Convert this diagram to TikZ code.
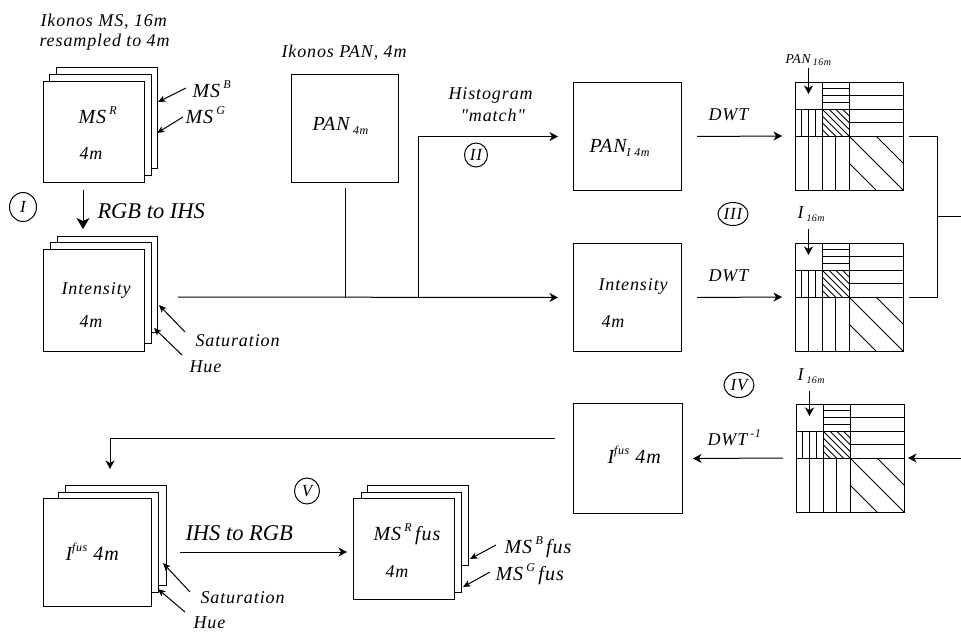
\documentclass[tikz,border=0pt]{standalone}
\usepackage{fontspec}
\setmainfont{Liberation Serif}
\newfontfamily\lsp[LetterSpace=5]{Liberation Serif}
\usetikzlibrary{arrows.meta,shapes.geometric}
\newcommand\upx[1]{\raisebox{0.42em}{\fontsize{12}{13}\selectfont #1}}
\newcommand\dnx[1]{\raisebox{-0.22em}{\fontsize{12}{13}\selectfont #1}}
\newcommand\dny[1]{\raisebox{-0.2em}{\fontsize{10}{11}\selectfont #1}}
\begin{document}
\begin{tikzpicture}[x=1pt,y=-1pt,line width=1pt,
 box/.style={draw,fill=white,inner sep=0pt,anchor=north west},
 back/.style={draw,fill=white},
 lbl/.style={font=\lsp\itshape\fontsize{18}{21}\selectfont,inner sep=0pt,anchor=base west},
 lblL/.style={font=\lsp\itshape\fontsize{20}{23}\selectfont,inner sep=0pt,anchor=base west},
 slbl/.style={font=\lsp\itshape\fontsize{13.5}{15}\selectfont,inner sep=0pt,anchor=base west},
 big/.style={font=\itshape\fontsize{22.5}{26}\selectfont,inner sep=0pt,anchor=base west},
 arr/.style={-{Stealth[length=8.5pt,width=9pt,inset=2.5pt]}},
 barr/.style={-{Stealth[length=11pt,width=13pt,inset=3pt]}},
 sarr/.style={-{Stealth[length=7.5pt,width=6.5pt,inset=2pt]}},
 rom/.style={draw,ellipse,inner sep=0pt,font=\lsp\itshape\fontsize{17}{19}\selectfont},
 dwtgrid/.pic={
  \draw (0,0) rectangle (108,108);
  \draw (54,0) -- (54,108) (0,54) -- (108,54) (27,0) -- (27,54) (0,27) -- (54,27);
  \foreach \t in {6.75,13.5,20.25} {\draw (27,\t) -- (54,\t); \draw (\t,27) -- (\t,54);}
  \foreach \t in {13.5,27,40.5} {\draw (54,\t) -- (108,\t); \draw (\t,54) -- (\t,108);}
  \draw (54,54) -- (108,108) (81,54) -- (108,81) (54,81) -- (81,108);
  \begin{scope}
   \clip (27,27) rectangle (54,54);
   \foreach \c in {-20.25,-13.5,-6.75,0,6.75,13.5,20.25} \draw ({27+(\c)},27) -- ++(27,27);
  \end{scope}
  \coordinate (-tl) at (13.5,12);
  \coordinate (-w) at (0,54);
  \coordinate (-e) at (108,54);
 }]
\useasboundingbox (0,0) rectangle (961,632);

% ---------- top-left MS stack ----------
\node[lbl] (t1) at (40,26) {Ikonos MS, 16m};
\node[lbl] (t2) at (39,46) {resampled to 4m};
\draw[back] (56,67) rectangle (157,168);
\draw[back] (49,74) rectangle (151,175);
\node[box,minimum width=101pt,minimum height=101pt] (msR) at (43,81) {};
\node[lblL] (lmsR) at (78,123) {MS\,\upx{R}};
\node[lbl] (l4a) at (79,159) {4m};
\node[lblL] (lmsB) at (192,97) {MS\,\upx{B}};
\node[lblL] (lmsG) at (185,123) {MS\,\upx{G}};
\coordinate (aB0) at (186,88); \coordinate (aB1) at (158,102);
\coordinate (aG0) at (183,117); \coordinate (aG1) at (157,133);
\draw[sarr] (aB0) -- (aB1);
\draw[sarr] (aG0) -- (aG1);

% ---------- RGB to IHS ----------
\node[rom,minimum width=27pt,minimum height=29pt] (cI) at (23,207) {I};
\coordinate (r1) at (83,190); \coordinate (r2) at (83,229);
\draw[barr] (r1) -- (r2);
\node[big] (rgb) at (97,218) {RGB to IHS};

% ---------- intensity stack ----------
\draw[back] (57,236) rectangle (157,332);
\draw[back] (50,242) rectangle (151,343);
\node[box,minimum width=101pt,minimum height=102pt] (intL) at (43,249) {};
\node[lbl] (lint1) at (61,294) {Intensity};
\node[lbl] (l4b) at (79,327) {4m};
\node[lbl] (lsat1) at (195,346) {Saturation};
\node[lbl] (lhue1) at (189,372) {Hue};
\coordinate (s10) at (185,332); \coordinate (s11) at (159,305);
\coordinate (h10) at (182,355); \coordinate (h11) at (154,328);
\draw[sarr] (s10) -- (s11);
\draw[sarr] (h10) -- (h11);

% ---------- PAN ----------
\node[lbl] (t3) at (281,57) {Ikonos PAN, 4m};
\node[box,minimum width=107pt,minimum height=108pt] (pan) at (291,74) {};
\node[lblL] (lpan) at (312,130) {PAN\,\dnx{4m}};

% ---------- middle column ----------
\node[box,minimum width=108pt,minimum height=108pt] (panI) at (573,82) {};
\node[lblL] (lpanI) at (589,152) {PAN\dnx{I 4m}};
\node[box,minimum width=108pt,minimum height=108pt] (intM) at (573,243) {};
\node[lbl] (lint2) at (598,290) {Intensity};
\node[lbl] (l4c) at (601,327) {4m};
\node[box,minimum width=109pt,minimum height=110pt] (ifusM) at (573,403) {};
\node[lblL] (lifM) at (607,463) {I\upx{fus} 4m};

% connectors left part
\coordinate (h0) at (178,297);
\coordinate (j2) at (418,297);
\draw[arr,shorten >=15pt] (h0) -- (intM.west);
\draw ([yshift=-5pt]pan.south) -- (pan.south |- h0);
\draw[arr,shorten >=15pt] (j2) |- (panI.west);
\node[lbl] (lhist) at (448,99) {Histogram};
\node[lbl] (lmatch) at (460,121) {"match"};
\node[rom,minimum width=23pt,minimum height=24pt] (cII) at (476,155) {II};

% ---------- DWT grids ----------
\pic (g1) at (795,82) {dwtgrid};
\pic (g2) at (795,243) {dwtgrid};
\pic (g3) at (796,404) {dwtgrid};

\node[lbl] (dwt1) at (708,120) {DWT};
\node[lbl] (dwt2) at (708,281) {DWT};
\draw[arr] ([xshift=15pt]panI.east) -- ([xshift=-13pt]g1-w);
\draw[arr] ([xshift=15pt]intM.east) -- ([xshift=-13pt]g2-w);

\node[slbl] (p16) at (785,63) {PAN\,\dny{16m}};
\draw[arr] ([yshift=-5pt]g1-tl |- p16.base) -- (g1-tl);
\node[rom,minimum width=30pt,minimum height=23pt] (cIII) at (733,214) {III};
\node[lbl] (i16a) at (797,218) {I\,\dny{16m}};
\draw[arr] ([yshift=-11pt]g2-tl |- i16a.base) -- (g2-tl);

\node[rom,minimum width=30pt,minimum height=25pt] (cIV) at (739,385) {IV};
\node[lbl] (i16b) at (797,380) {I\,\dny{16m}};
\draw[arr] ([yshift=-11pt]g3-tl |- i16b.base) -- (g3-tl);
\node[lbl] (dwti) at (707,445) {DWT\,\upx{-1}};
\draw[arr] ([xshift=-13pt]g3-w) -- ([xshift=10pt]ifusM.east);

% right side connectors
\coordinate (rx) at (937,216);
\coordinate (redge) at (961,458);
\draw ([xshift=6pt]g1-e) -| (rx |- g2-e) -- ([xshift=6pt]g2-e);
\draw (rx) -- (rx -| redge);
\draw[arr,shorten >=4pt] (redge) -- (g3-e);

% ---------- loop back to bottom-left ----------
\coordinate (lb) at (555,438);
\coordinate (lt) at (110,469);
\draw[arr] (lb) -| (lt);

% ---------- bottom-left stack ----------
\draw[back] (65,485) rectangle (166,585);
\draw[back] (58,492) rectangle (158,592);
\node[box,minimum width=108pt,minimum height=108pt] (ifusL) at (43,498) {};
\node[lblL] (lifL) at (65,560) {I\upx{fus} 4m};
\node[lbl] (lsat2) at (200,603) {Saturation};
\node[lbl] (lhue2) at (193,628) {Hue};
\coordinate (s20) at (190,592); \coordinate (s21) at (163,563);
\coordinate (h20) at (185,612); \coordinate (h21) at (158,589);
\draw[sarr] (s20) -- (s21);
\draw[sarr] (h20) -- (h21);

% ---------- IHS to RGB ----------
\node[rom,minimum width=25pt,minimum height=26pt] (cV) at (307,491) {V};
\node[big] (ihs) at (185,540) {IHS to RGB};
\coordinate (ihs0) at (180,552);

% ---------- MS fus stack ----------
\draw[back] (367,485) rectangle (468,565);
\draw[back] (361,492) rectangle (461,592);
\node[box,minimum width=101pt,minimum height=101pt] (msF) at (353,498) {};
\draw[arr,shorten >=6pt] (ihs0) -- (ihs0 -| msF.west);
\node[lblL] (lmsRf) at (373,540) {MS\,\upx{R}\,fus};
\node[lbl] (l4d) at (385,577) {4m};
\node[lblL] (lmsBf) at (504,553) {MS\,\upx{B}\,fus};
\node[lblL] (lmsGf) at (495,580) {MS\,\upx{G}\,fus};
\coordinate (bf0) at (496,545); \coordinate (bf1) at (470,559);
\coordinate (gf0) at (490,572); \coordinate (gf1) at (463,587);
\draw[sarr] (bf0) -- (bf1);
\draw[sarr] (gf0) -- (gf1);
\end{tikzpicture}
\end{document}
